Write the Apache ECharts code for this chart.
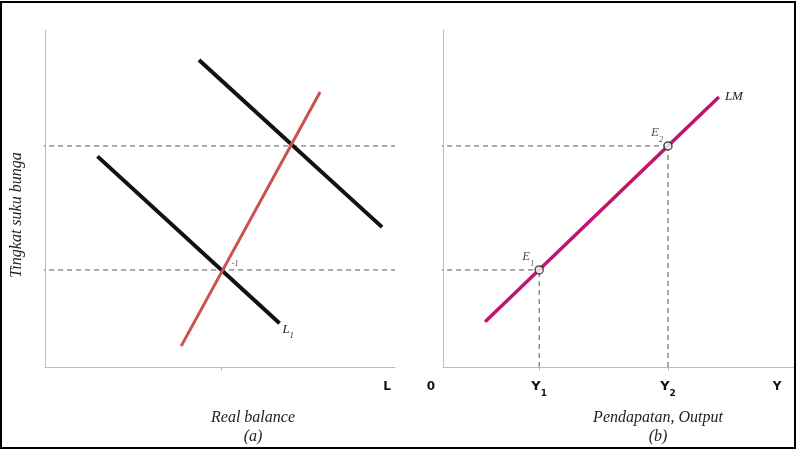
<!DOCTYPE html>
<html>
<head>
<meta charset="utf-8">
<script src="https://cdn.jsdelivr.net/npm/echarts@6/dist/echarts.min.js"></script>
<style>
  html, body { margin: 0; padding: 0; background: #fff; }
  #chart { width: 802px; height: 450px; }
</style>
</head>
<body>
<div id="chart"></div>
<script>
// interest rate levels shared by both panels
const RATES = [2.88, 6.56];
// panel (a): money demand curves and supply line, [x, y] end points
const DEMAND_L1 = [[1.5, 6.25], [6.7, 1.3]];
const DEMAND_L2 = [[4.4, 9.11], [9.63, 4.15]];
const SUPPLY = [[3.89, 0.62], [7.86, 8.16]];
const REAL_BALANCE_TICK = [5.03];
// panel (b): LM curve and the two equilibria
const LM = [[1.2, 1.34], [7.86, 8.01]];
const INCOME = [2.74, 6.41];
const INCOME_LABELS = ['1', '2'];

const SERIF = '"Liberation Serif", "DejaVu Serif", serif';
const SANS = '"DejaVu Sans", "Liberation Sans", sans-serif';
const AXIS_COLOR = '#bdbdbd';
const DASH_COLOR = '#555';

const chart = echarts.init(document.getElementById('chart'));

// nearest label for a custom tick value
function incomeLabel(v) {
  let best = 0;
  INCOME.forEach((x, i) => {
    if (Math.abs(x - v) < Math.abs(INCOME[best] - v)) best = i;
  });
  return INCOME_LABELS[best];
}

function axisX(index, ticks, withLabels) {
  return {
    type: 'value', gridIndex: index, min: 0, max: 10,
    splitLine: {show: false},
    axisLine: {show: true, lineStyle: {color: AXIS_COLOR, width: 1}},
    axisTick: {show: true, customValues: ticks, length: 4, lineStyle: {color: AXIS_COLOR}},
    axisLabel: withLabels ? {
      show: true,
      customValues: ticks,
      margin: 13,
      formatter: (v) => '{b|Y}{s|' + incomeLabel(v) + '}',
      rich: {
        b: {fontFamily: SANS, fontWeight: 'bold', fontSize: 13, color: '#111', verticalAlign: 'bottom'},
        s: {fontFamily: SANS, fontWeight: 'bold', fontSize: 9, color: '#111', verticalAlign: 'bottom', padding: [0, 0, -5, 0]}
      }
    } : {show: false}
  };
}

function axisY(index) {
  return {
    type: 'value', gridIndex: index, min: 0, max: 10,
    splitLine: {show: false},
    axisLine: {show: true, lineStyle: {color: AXIS_COLOR, width: 1}},
    axisTick: {show: false},
    axisLabel: {show: false}
  };
}

// horizontal / vertical dashed guide lines
function dashed(data, grid) {
  return {
    type: 'line', xAxisIndex: grid, yAxisIndex: grid, data: data,
    symbol: 'none', clip: false, silent: true, z: 1,
    lineStyle: {color: DASH_COLOR, width: 1, type: [5, 4]}
  };
}

function curve(data, grid, color, width, endLabel) {
  return {
    type: 'line', xAxisIndex: grid, yAxisIndex: grid, data: data,
    symbol: 'none', clip: false, silent: true, z: 3,
    lineStyle: {color: color, width: width, cap: 'butt'},
    endLabel: endLabel || {show: false}
  };
}

const subRich = {
  i: {fontFamily: SERIF, fontStyle: 'italic', fontSize: 13, color: '#222', verticalAlign: 'bottom'},
  s: {fontFamily: SERIF, fontStyle: 'italic', fontSize: 8, color: '#222', verticalAlign: 'bottom', padding: [0, 0, -4, 0]}
};

const series = [];
// panel (a)
RATES.forEach((r) => series.push(dashed([[-0.14, r], [10, r]], 0)));
series.push(curve(DEMAND_L1, 0, '#111', 4, {
  show: true, formatter: '{i|L}{s|1}', rich: subRich, distance: 3, offset: [0, 6]
}));
series.push(curve(DEMAND_L2, 0, '#111', 4));
series.push(curve(SUPPLY, 0, '#c9524f', 3));
series.push({
  type: 'scatter', xAxisIndex: 0, yAxisIndex: 0, symbolSize: 0, silent: true, z: 4,
  data: [[REAL_BALANCE_TICK[0], RATES[0]]],
  label: {show: true, position: 'inside', offset: [14, -8], formatter: '{s|-1}', rich: subRich}
});

// panel (b)
series.push(dashed([[-0.14, RATES[0]], [INCOME[0], RATES[0]]], 1));
series.push(dashed([[-0.14, RATES[1]], [INCOME[1], RATES[1]]], 1));
series.push(dashed([[INCOME[0], 0], [INCOME[0], RATES[0]]], 1));
series.push(dashed([[INCOME[1], 0], [INCOME[1], RATES[1]]], 1));
series.push(curve(LM, 1, '#c0156d', 3.5, {
  show: true, formatter: '{i|LM}', rich: subRich, distance: 6, offset: [0, 0]
}));
series.push({
  type: 'scatter', xAxisIndex: 1, yAxisIndex: 1, symbol: 'circle', symbolSize: 8, silent: true, z: 5,
  itemStyle: {color: '#fff', borderColor: '#222', borderWidth: 1.5},
  data: INCOME.map((y, i) => ({
    value: [y, RATES[i]],
    label: {show: true, position: 'inside', offset: [-11, -13], formatter: '{i|E}{s|' + INCOME_LABELS[i] + '}', rich: subRich}
  }))
});

const bottomText = (x, y, text, font) => ({
  type: 'text', x: x, y: y,
  style: Object.assign({text: text, textAlign: 'center', textVerticalAlign: 'middle', fill: '#111'}, font)
});
const boldFont = {font: 'bold 12px ' + SANS};
const serifFont = {font: 'italic 16px ' + SERIF, fill: '#222'};

chart.setOption({
  animation: false,
  backgroundColor: '#fff',
  grid: [
    {left: 45, top: 30, width: 350, height: 337},
    {left: 443, top: 30, width: 351, height: 337}
  ],
  xAxis: [axisX(0, REAL_BALANCE_TICK, false), axisX(1, INCOME, true)],
  yAxis: [axisY(0), axisY(1)],
  series: series,
  graphic: [
    {
      type: 'rect', shape: {x: 1, y: 2, width: 794, height: 446},
      style: {fill: 'none', stroke: '#000', lineWidth: 2}, z: 100
    },
    {
      type: 'text', x: 17, y: 215, rotation: Math.PI / 2,
      style: {text: 'Tingkat suku bunga', font: 'italic 16px ' + SERIF, fill: '#222',
        textAlign: 'center', textVerticalAlign: 'middle'}
    },
    bottomText(387, 387, 'L', boldFont),
    bottomText(431, 387, '0', boldFont),
    bottomText(777, 387, 'Y', boldFont),
    bottomText(253, 418, 'Real balance', serifFont),
    bottomText(253, 437, '(a)', serifFont),
    bottomText(658, 418, 'Pendapatan, Output', serifFont),
    bottomText(658, 437, '(b)', serifFont)
  ]
});
</script>
</body>
</html>
